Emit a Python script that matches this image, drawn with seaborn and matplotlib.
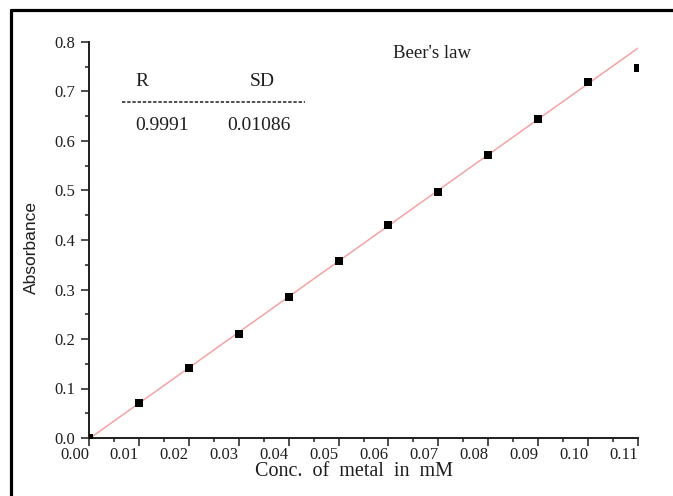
import numpy as np
import pandas as pd
import matplotlib
matplotlib.use("Agg")
import matplotlib.pyplot as plt
import seaborn as sns
from matplotlib.ticker import MultipleLocator, FormatStrFormatter
from matplotlib.lines import Line2D

# data
conc = [0.00, 0.01, 0.02, 0.03, 0.04, 0.05, 0.06, 0.07, 0.08, 0.09, 0.10, 0.11]
absorbance = [0.000, 0.071, 0.142, 0.211, 0.285, 0.357, 0.430, 0.497, 0.572, 0.644, 0.719, 0.747]
r_value = "0.9991"
sd_value = "0.01086"

df = pd.DataFrame({"conc": conc, "abs": absorbance})

sns.set_style("ticks")
plt.rcParams["font.family"] = ["Liberation Serif", "DejaVu Serif"]
ink = "#1e1e1e"

fig = plt.figure(figsize=(6.73, 4.96), dpi=100)
ax = fig.add_axes([89 / 673, 58 / 496, 549 / 673, 396 / 496])

# linear fit line (last point left out, it sits below the line)
slope, intercept = np.polyfit(conc[:-1], absorbance[:-1], 1)
fit_x = np.array([0.0, 0.11])
ax.plot(fit_x, slope * fit_x + intercept, color="#f5a3a3", lw=1.1, zorder=2)

sns.scatterplot(data=df, x="conc", y="abs", marker="s", s=36, color="black",
                edgecolor="black", linewidth=0, ax=ax, zorder=3)

ax.set_xlim(0, 0.11)
ax.set_ylim(0, 0.8)
ax.xaxis.set_major_locator(MultipleLocator(0.01))
ax.xaxis.set_minor_locator(MultipleLocator(0.005))
ax.yaxis.set_major_locator(MultipleLocator(0.1))
ax.yaxis.set_minor_locator(MultipleLocator(0.05))
ax.xaxis.set_major_formatter(FormatStrFormatter("%.2f"))
ax.yaxis.set_major_formatter(FormatStrFormatter("%.1f"))
ax.tick_params(which="major", length=5.8, width=1.1, direction="out", labelsize=12,
               colors=ink)
ax.tick_params(axis="x", which="major", pad=1)
ax.tick_params(axis="y", which="major", pad=4)
ax.tick_params(which="minor", length=3, width=1.1, direction="out", colors=ink)
plt.setp(ax.get_xticklabels(), ha="right")

sns.despine(ax=ax)
for s in ["left", "bottom"]:
    ax.spines[s].set_linewidth(1.4)
    ax.spines[s].set_color(ink)

ax.set_xlabel("Conc.  of  metal  in  mM", fontsize=14.5, color=ink)
ax.xaxis.set_label_coords((354 - 89) / 549, (438 - 462) / 396)
ax.set_ylabel("Absorbance", fontsize=12.5, color=ink, family=["Liberation Sans", "DejaVu Sans"])
ax.yaxis.set_label_coords((31 - 89) / 549, (438 - 248) / 396)
ax.yaxis.label.set_va("center")

# R / SD table
ax.text(0.0093, 0.72, "R", fontsize=14, color=ink, ha="left", va="center")
ax.text(0.0322, 0.72, "SD", fontsize=14, color=ink, ha="left", va="center")
ax.plot([0.0067, 0.0433], [0.679, 0.679], color=ink, lw=1.1, ls=(0, (2.2, 1.2)),
        clip_on=False)
ax.text(0.0093, 0.632, r_value, fontsize=14, color=ink, ha="left", va="center")
ax.text(0.0277, 0.632, sd_value, fontsize=14, color=ink, ha="left", va="center")
ax.text(0.0610, 0.776, "Beer's law", fontsize=13.5, color=ink, ha="left", va="center")

# outer frame (top and left edges visible)
fig.add_artist(Line2D([11 / 673, 1.0], [1 - 10 / 496, 1 - 10 / 496], color="black", lw=2.3,
                      transform=fig.transFigure))
fig.add_artist(Line2D([11 / 673, 11 / 673], [0.0, 1 - 10 / 496], color="black", lw=2.3,
                      transform=fig.transFigure))

fig.savefig("out.png", dpi=100)
